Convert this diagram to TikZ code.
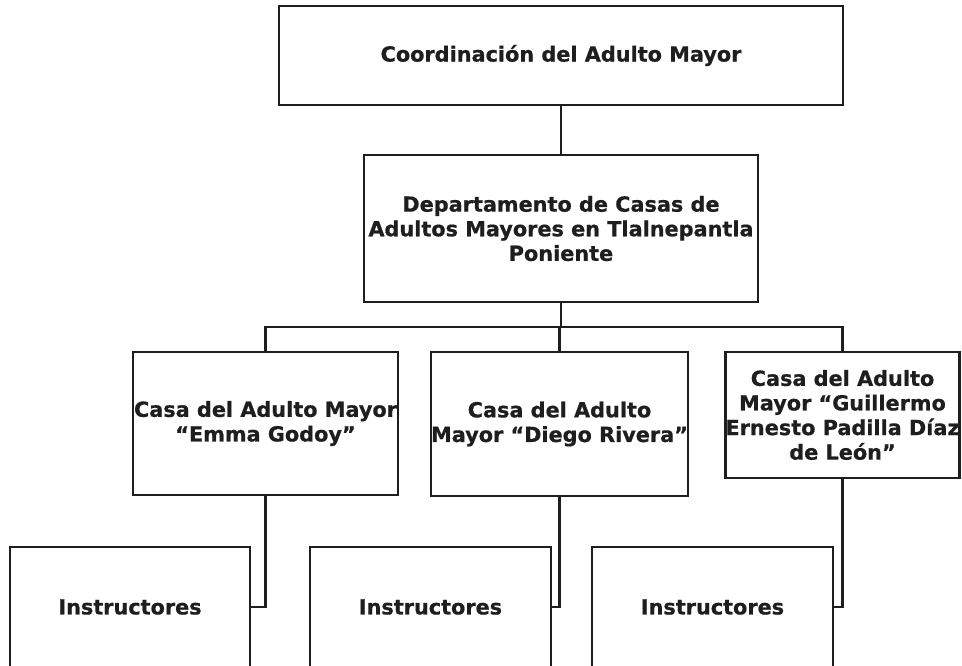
\documentclass[tikz,border=0pt]{standalone}
\usepackage{fontspec}
\setmainfont{DejaVu Sans}
\newfontfamily\heavyfont{DejaVu Sans Bold}[FakeBold=0.7]
\definecolor{ink}{HTML}{1E1E1E}
\begin{document}
\begin{tikzpicture}[x=1pt,y=-1pt,
  box/.style={draw=ink,line width=2.1pt,rectangle,inner sep=0pt,align=center,
    text=ink,font=\heavyfont\fontsize{20.8}{24.6}\selectfont},
  link/.style={draw=ink,line width=2.1pt}]
\clip (0,0) rectangle (962,666);
\useasboundingbox (0,0) rectangle (962,666);
\node[box,minimum width=564pt,minimum height=99pt] (top) at (561,55.5) {Coordinación del Adulto Mayor};
\node[box,minimum width=394pt,minimum height=147pt] (dept) at (561,228.5) {Departamento de Casas de\\Adultos Mayores en Tlalnepantla\\Poniente};
\node[box,minimum width=265pt,minimum height=143pt] (c1) at (265.5,423.5) {Casa del Adulto Mayor\\“Emma Godoy”};
\node[box,minimum width=255pt,minimum height=144pt] (c2) at (559.5,424) {Casa del Adulto\\Mayor “Diego Rivera”};
\node[box,minimum width=233pt,minimum height=126pt] (c3) at (842.5,415) {Casa del Adulto\\Mayor “Guillermo\\Ernesto Padilla Díaz\\de León”};
\node[box,minimum width=240pt,minimum height=120pt] (i1) at (130,607) {Instructores};
\node[box,minimum width=241pt,minimum height=120pt] (i2) at (430.5,607) {Instructores};
\node[box,minimum width=241pt,minimum height=120pt] (i3) at (712.5,607) {Instructores};
\coordinate (busL) at (265.5,327);
\coordinate (busR) at (842.5,327);
\draw[link] (top) -- (dept);
\draw[link] (dept.south) -- (dept.south |- busL);
\draw[link] (c1.north) -- (busL) -- (busR) -- (c3.north);
\draw[link] (c2.north) -- (c2.north |- busL);
\draw[link] (c1.south) |- (i1.east);
\draw[link] (c2.south) |- (i2.east);
\draw[link] (c3.south) |- (i3.east);
\end{tikzpicture}
\end{document}
